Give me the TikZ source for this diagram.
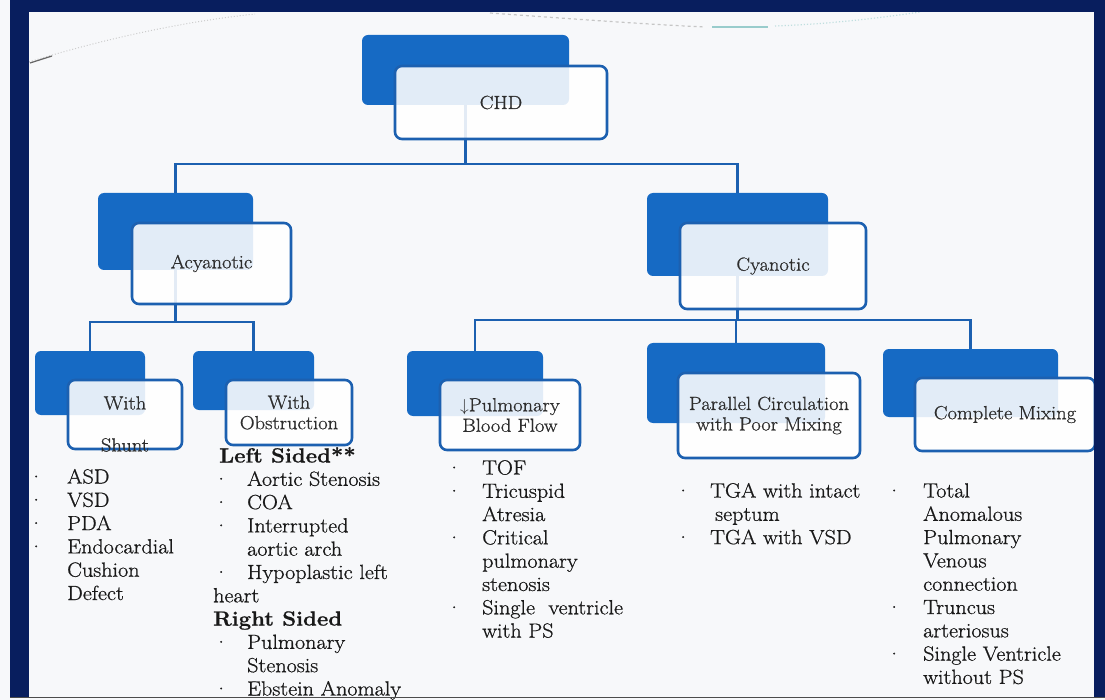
\documentclass[tikz,border=0pt]{standalone}
\usepackage{fontspec}
\setmainfont{Latin Modern Roman}[FakeStretch=1.08, FakeBold=0.8]
\definecolor{navy}{RGB}{8,30,94}
\definecolor{dkb}{RGB}{22,106,196}
\definecolor{bord}{RGB}{28,96,176}
\definecolor{txt}{RGB}{45,45,45}
\definecolor{bgc}{RGB}{247,248,250}
\pgfdeclarelayer{bottom}
\pgfdeclarelayer{conn}
\pgfdeclarelayer{front}
\pgfsetlayers{bottom,conn,main,front}
\tikzset{
 dk/.style={fill=dkb, rounded corners=6pt, inner sep=0pt, outer sep=0pt},
 lt/.style={draw=bord, line width=2.6pt, fill=white, fill opacity=0.88, text opacity=1, rounded corners=7pt, inner sep=0pt, align=center, text=txt, font=\fontsize{19}{20.5}\selectfont},
 connector/.style={draw=bord, line width=2.4pt},
 lst/.style={anchor=base west, inner sep=0pt, text=black!90, font=\fontsize{20.5}{23.3}\selectfont},
}
\begin{document}
\begin{tikzpicture}[x=1pt,y=-1pt]
\useasboundingbox (0,0) rectangle (1105,700);
\begin{pgfonlayer}{bottom}
\fill[bgc] (0,0) rectangle (1105,700);
\draw[gray!40, line width=1pt, dotted] (29,62) .. controls (100,40) and (180,22) .. (255,14);
\draw[black!60, line width=1.2pt] (30,63) -- (52,56);
\draw[gray!45, line width=1.2pt, dashed] (490,13) .. controls (560,18) and (640,24) .. (705,27);
\draw[teal!40, line width=1.5pt] (712,27) -- (768,27);
\draw[teal!25, line width=1.2pt, dotted] (775,26) .. controls (830,24) and (880,18) .. (920,12);
\end{pgfonlayer}

% level 1
\node[dk, minimum width=207pt, minimum height=70pt] (chdD) at (465.5,70) {};
\node[lt, minimum width=212pt, minimum height=73pt] (chd) at (501,102.5) {CHD};
% level 2
\node[dk, minimum width=155pt, minimum height=77pt] (acyD) at (175.5,231.5) {};
\node[lt, minimum width=159pt, minimum height=81pt] (acy) at (211.5,263.5) {Acyanotic};
\node[dk, minimum width=181pt, minimum height=83pt] (cyaD) at (737.5,234.5) {};
\node[lt, minimum width=186pt, minimum height=86pt] (cya) at (773,266) {Cyanotic};
% level 3
\node[dk, minimum width=110pt, minimum height=64pt] (shuD) at (90,383) {};
\node[lt, minimum width=114pt, minimum height=69pt] (shu) at (125,414.5) {};
\node[lt, draw=none, fill=none] (shuT) at (125,424) {With\\[21.5pt]Shunt};
\node[dk, minimum width=121pt, minimum height=59pt] (obsD) at (253.5,380.5) {};
\node[lt, minimum width=126pt, minimum height=65pt] (obs) at (289,412.5) {With\\Obstruction};
\node[dk, minimum width=136pt, minimum height=65pt] (pulD) at (475,383.5) {};
\node[lt, minimum width=140pt, minimum height=70pt] (pul) at (510,415) {$\downarrow$Pulmonary\\Blood Flow};
\node[dk, minimum width=178pt, minimum height=80pt] (parD) at (736,383) {};
\node[lt, minimum width=182pt, minimum height=85pt] (par) at (769,415.5) {Parallel Circulation\\with Poor Mixing};
\node[dk, minimum width=175pt, minimum height=68pt] (comD) at (970.5,383) {};
\node[lt, minimum width=180pt, minimum height=73pt] (com) at (1005,414.5) {Complete Mixing};

% connectors
\coordinate (b1) at (0,164);
\coordinate (b2) at (0,322);
\coordinate (b3) at (0,320);
\begin{pgfonlayer}{conn}
\draw[connector] (chdD.center) -- (chdD.center |- b1) -| (acyD.center);
\draw[connector] (chdD.center) -- (chdD.center |- b1) -| (cyaD.center);
\draw[connector] (acyD.center) -- (acyD.center |- b2) -| (shuD.center);
\draw[connector] (acyD.center) -- (acyD.center |- b2) -| (obsD.center);
\draw[connector] (cyaD.center) -- (cyaD.center |- b3) -| (pulD.center);
\draw[connector] (cyaD.center) -- (cyaD.center |- b3) -| (parD.center);
\draw[connector] (cyaD.center) -- (cyaD.center |- b3) -| (comD.center);
\end{pgfonlayer}

% lists
\node[lst] (l1) at (28,483.5) {\begin{tabular}[t]{@{}p{39pt}@{}l@{}}
·& ASD\\ ·& VSD\\ ·& PDA\\ ·& Endocardial\\ & Cushion\\ & Defect
\end{tabular}};
\node[lst] (l2) at (213,462.5) {\begin{tabular}[t]{@{}p{34pt}@{}l@{}}
\multicolumn{2}{@{}l@{}}{\hspace{6pt}\bfseries Left Sided**}\\
·& Aortic Stenosis\\ ·& COA\\ ·& Interrupted\\ & aortic arch\\ ·& Hypoplastic left\\
\multicolumn{2}{@{}l@{}}{heart}\\
\multicolumn{2}{@{}l@{}}{\bfseries Right Sided}\\
·& Pulmonary\\ & Stenosis\\ ·& Ebstein Anomaly
\end{tabular}};
\node[lst] (l3) at (446,474.5) {\begin{tabular}[t]{@{}p{36pt}@{}l@{}}
·& TOF\\ ·& Tricuspid\\ & Atresia\\ ·& Critical\\ & pulmonary\\ & stenosis\\ ·& Single\ \ ventricle\\ & with PS
\end{tabular}};
\node[lst] (l4) at (675,497.5) {\begin{tabular}[t]{@{}p{35pt}@{}l@{}}
·& TGA with intact\\ & \hspace{5pt}septum\\ ·& TGA with VSD
\end{tabular}};
\node[lst] (l5) at (886,497.5) {\begin{tabular}[t]{@{}p{37pt}@{}l@{}}
·& Total\\ & Anomalous\\ & Pulmonary\\ & Venous\\ & connection\\ ·& Truncus\\ & arteriosus\\ ·& Single Ventricle\\ & without PS
\end{tabular}};

\begin{pgfonlayer}{front}
\fill[navy] (10,0) rectangle (1105,12);
\fill[navy] (10,0) rectangle (29,698);
\fill[navy] (1094,0) rectangle (1105,698);
\draw[black!70, line width=1.5pt] (10,697.5) -- (1105,697.5);
\end{pgfonlayer}
\end{tikzpicture}
\end{document}
